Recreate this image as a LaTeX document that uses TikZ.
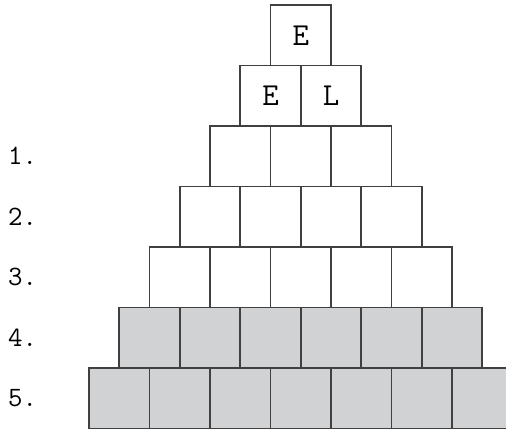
\documentclass[tikz,border=0pt]{standalone}
\usepackage{xcolor}
\usetikzlibrary{positioning}
\definecolor{boxgray}{RGB}{209,210,212}
\definecolor{linegray}{RGB}{64,64,64}
\begin{document}
\begin{tikzpicture}[
        x=1pt, y=1pt,
        cell/.style={rectangle, draw=linegray, line width=1.6pt, minimum width=60.5pt, minimum height=60.5pt, inner sep=0pt, outer sep=0pt, font=\fontsize{32}{34}\selectfont\ttfamily},
        rowlabel/.style={anchor=west, inner sep=0pt, font=\fontsize{28}{30}\selectfont\ttfamily}
    ]
        \useasboundingbox (0,0) rectangle (506,430);
        \clip (0,0) rectangle (506,430);

        % Top rows with letters
        \node[cell] (r0-0) at (300.75, 394.75) {E};
        \node[cell] (r1-0) at (270.5, 334.25) {E};
        \node[cell, right=0pt of r1-0] (r1-1) {L};

        % Empty white rows
        \foreach \i in {2,...,4}
            \foreach \j in {0,...,\i}
                \node[cell] (r\i-\j) at ({270.5-\i*30.25+(\j+0.5)*60.5}, {425-(\i+0.5)*60.5}) {};

        % Grey rows
        \foreach \i in {5,6}
            \foreach \j in {0,...,\i}
                \node[cell, fill=boxgray] (r\i-\j) at ({270.5-\i*30.25+(\j+0.5)*60.5}, {425-(\i+0.5)*60.5}) {};

        % Row numbers
        \foreach \i/\t in {2/1., 3/2., 4/3., 5/4., 6/5.}
            \node[rowlabel] (lab\i) at (8, {425-(\i+0.5)*60.5}) {\t};

    \end{tikzpicture}
\end{document}
